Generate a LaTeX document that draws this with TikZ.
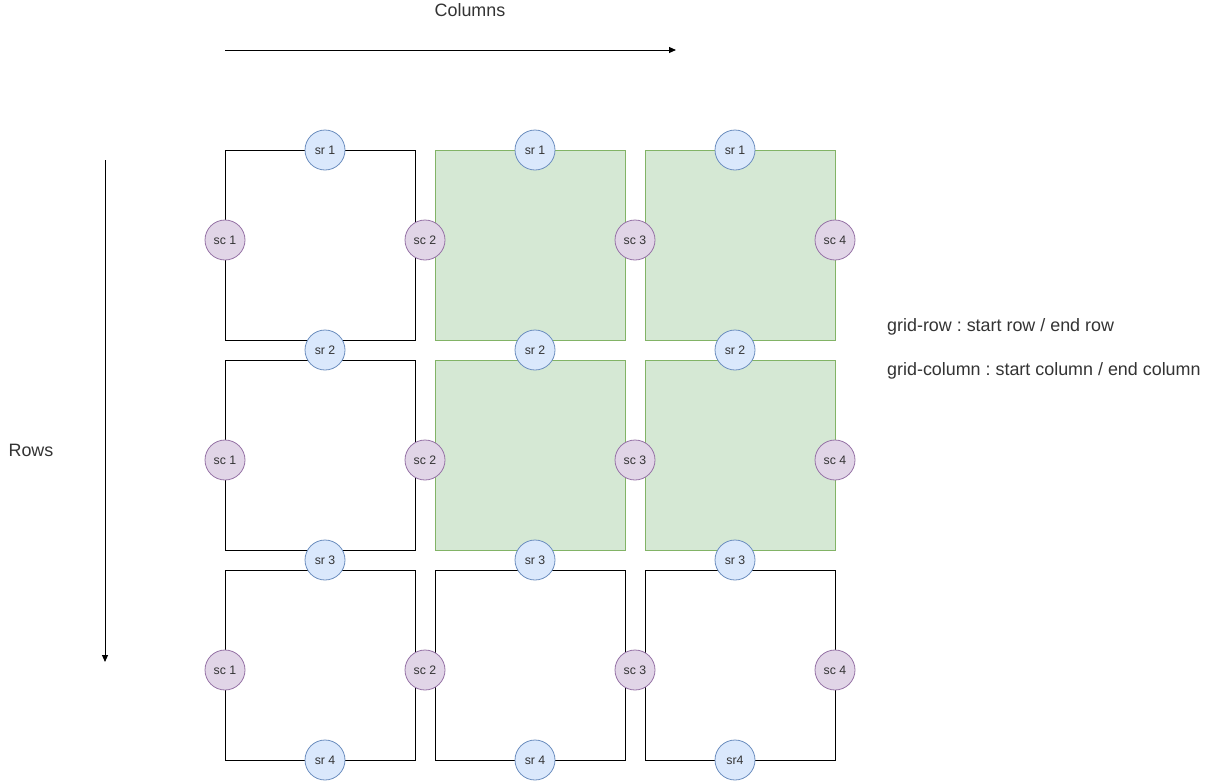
\documentclass[tikz,border=0pt]{standalone}
\usepackage{fontspec}
\setmainfont{Liberation Sans}
\usetikzlibrary{arrows.meta}
\definecolor{srfill}{HTML}{DAE8FC}
\definecolor{srline}{HTML}{6C8EBF}
\definecolor{scfill}{HTML}{E1D5E7}
\definecolor{scline}{HTML}{9673A6}
\definecolor{gfill}{HTML}{D5E8D4}
\definecolor{gline}{HTML}{82B366}
\definecolor{txt}{HTML}{333333}
\frenchspacing
\begin{document}
\begin{tikzpicture}[x=1pt,y=-1pt,
  cellbox/.style={draw=black,fill=white,line width=1pt,minimum width=190pt,minimum height=190pt,inner sep=0pt},
  greenbox/.style={draw=gline,fill=gfill,line width=1pt,minimum width=190pt,minimum height=190pt,inner sep=0pt},
  srnode/.style={circle,draw=srline,fill=srfill,line width=0.8pt,minimum size=40pt,inner sep=0pt,font=\fontsize{12.3}{14}\selectfont,text=txt},
  scnode/.style={circle,draw=scline,fill=scfill,line width=0.8pt,minimum size=40pt,inner sep=0pt,font=\fontsize{12.3}{14}\selectfont,text=txt},
  lbl/.style={font=\fontsize{17.9}{21}\selectfont,text=txt,inner sep=0pt},
  axis/.style={line width=1pt,-{Triangle[length=7pt,width=6pt]}}
]
\useasboundingbox (0,0) rectangle (1216,782);
% cells
\node[cellbox] (c11) at (320,245) {};
\node[greenbox] (c12) at (530,245) {};
\node[greenbox] (c13) at (740,245) {};
\node[cellbox] (c21) at (320,455) {};
\node[greenbox] (c22) at (530,455) {};
\node[greenbox] (c23) at (740,455) {};
\node[cellbox] (c31) at (320,665) {};
\node[cellbox] (c32) at (530,665) {};
\node[cellbox] (c33) at (740,665) {};
% row circles
\node[srnode] (r11) at (325,150) {sr 1};
\node[srnode] (r12) at (535,150) {sr 1};
\node[srnode] (r13) at (735,150) {sr 1};
\node[srnode] (r21) at (325,350) {sr 2};
\node[srnode] (r22) at (535,350) {sr 2};
\node[srnode] (r23) at (735,350) {sr 2};
\node[srnode] (r31) at (325,560) {sr 3};
\node[srnode] (r32) at (535,560) {sr 3};
\node[srnode] (r33) at (735,560) {sr 3};
\node[srnode] (r41) at (325,760) {sr 4};
\node[srnode] (r42) at (535,760) {sr 4};
\node[srnode] (r43) at (735,760) {sr4};
% column circles
\foreach \y/\k in {240/1,460/2,670/3}{
  \node[scnode] (s\k1) at (225,\y) {sc 1};
  \node[scnode] (s\k2) at (425,\y) {sc 2};
  \node[scnode] (s\k3) at (635,\y) {sc 3};
  \node[scnode] (s\k4) at (835,\y) {sc 4};
}
% axes
\coordinate (colA) at (225,50);
\coordinate (colB) at (676,50);
\coordinate (rowA) at (105,160);
\coordinate (rowB) at (105,662);
\draw[axis] (colA) -- (colB);
\draw[axis] (rowA) -- (rowB);
\node[lbl] (coltxt) at (470,10) {Columns};
\node[lbl] (rowtxt) at (31,450) {Rows};
\node[lbl,anchor=west] (gr) at (887,327) {grid-row : start row / end row};
\node[lbl,anchor=west] (gc) at (887,371) {grid-column : start column / end column};
\end{tikzpicture}
\end{document}
